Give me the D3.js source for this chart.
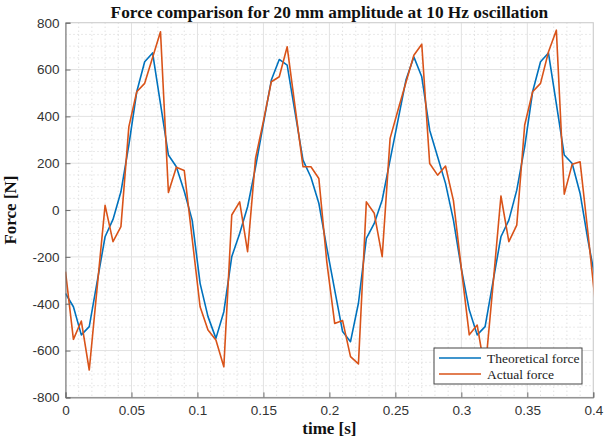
<!DOCTYPE html>
<html>
<head>
<meta charset="utf-8">
<script src="https://cdnjs.cloudflare.com/ajax/libs/d3/7.8.5/d3.min.js"></script>
<style>
  body { margin: 0; background: #fff; }
  svg { display: block; }
</style>
</head>
<body>
<div id="chart"></div>
<script>
// sample times [s]
var time = [0, 0.006, 0.012, 0.018, 0.024, 0.03, 0.036, 0.042, 0.048, 0.054, 0.06, 0.066, 0.072, 0.078, 0.084, 0.09, 0.096,
  0.102, 0.108, 0.114, 0.12, 0.126, 0.132, 0.138, 0.144, 0.15, 0.156, 0.162, 0.168, 0.174, 0.18, 0.186, 0.192, 0.198,
  0.204, 0.21, 0.216, 0.222, 0.228, 0.234, 0.24, 0.246, 0.252, 0.258, 0.264, 0.27, 0.276, 0.282, 0.288, 0.294, 0.3,
  0.306, 0.312, 0.318, 0.324, 0.33, 0.336, 0.342, 0.348, 0.354, 0.36, 0.366, 0.372, 0.378, 0.384, 0.39, 0.396, 0.402]

// theoretical force [N]
var theoretical = [-356, -413, -533, -498, -306, -114, -40, 78, 277, 505, 633, 671, 453, 235, 185, 80, -43,
  -313, -455, -548, -434, -199, -100, 14, 182, 370, 555, 643, 619, 416, 213, 140, 29, -160,
  -341, -519, -562, -398, -121, -57, 43, 214, 384, 555, 654, 569, 341, 228, 114, -43, -250,
  -427, -533, -498, -306, -114, -43, 85, 270, 505, 633, 671, 453, 235, 199, 71, -130, -310]

// actual (measured) force [N]
var actual = [-263, -552, -474, -683, -330, 20, -135, -71, 355, 505, 541, 651, 761, 75, 183, 169, -122,
  -413, -512, -555, -669, -21, 35, -178, 220, 380, 548, 569, 697, 441, 185, 185, 135, -220,
  -484, -472, -626, -657, 35, -14, -199, 306, 427, 545, 661, 708, 199, 149, 188, 40, -250,
  -533, -491, -690, -320, 60, -135, -64, 363, 505, 541, 675, 768, 68, 196, 206, -100, -420]

var seriesNames = ['Theoretical force', 'Actual force']
var xTicks = [0, 0.05, 0.1, 0.15, 0.2, 0.25, 0.3, 0.35, 0.4]
var yTicks = [-800, -600, -400, -200, 0, 200, 400, 600, 800]

var margin = { top: 22.7, left: 65.5, right: 11.7, bottom: 45.6 }
var width = 605 - margin.left - margin.right
var height = 443 - margin.top - margin.bottom

var svg = d3.select('#chart')
  .append('svg')
  .attr('width', 605)
  .attr('height', 443)

var g = svg.append('g')
  .attr('transform', `translate(${margin.left},${margin.top})`)

var xPositionScale = d3.scaleLinear().domain([0, 0.4]).range([0, width])
var yPositionScale = d3.scaleLinear().domain([-800, 800]).range([height, 0])
var colorScale = d3.scaleOrdinal().domain(seriesNames).range(['#0072BD', '#D95319'])

// minor grid (dotted)
g.append('g')
  .selectAll('line')
  .data(d3.range(0.01, 0.4, 0.01).filter(d => Math.abs(d / 0.05 - Math.round(d / 0.05)) > 0.01))
  .enter()
  .append('line')
  .attr('x1', d => xPositionScale(d))
  .attr('x2', d => xPositionScale(d))
  .attr('y1', 0)
  .attr('y2', height)
  .attr('stroke', '#d4d4d4')
  .attr('stroke-dasharray', '1,3')

g.append('g')
  .selectAll('line')
  .data(d3.range(-750, 800, 50).filter(d => d % 200 !== 0))
  .enter()
  .append('line')
  .attr('x1', 0)
  .attr('x2', width)
  .attr('y1', d => yPositionScale(d))
  .attr('y2', d => yPositionScale(d))
  .attr('stroke', '#d4d4d4')
  .attr('stroke-dasharray', '1,3')

// major grid
g.append('g')
  .selectAll('line')
  .data(xTicks)
  .enter()
  .append('line')
  .attr('x1', d => xPositionScale(d))
  .attr('x2', d => xPositionScale(d))
  .attr('y1', 0)
  .attr('y2', height)
  .attr('stroke', '#e2e2e2')

g.append('g')
  .selectAll('line')
  .data(yTicks)
  .enter()
  .append('line')
  .attr('x1', 0)
  .attr('x2', width)
  .attr('y1', d => yPositionScale(d))
  .attr('y2', d => yPositionScale(d))
  .attr('stroke', '#e2e2e2')

// box
g.append('rect')
  .attr('width', width)
  .attr('height', height)
  .attr('fill', 'none')
  .attr('stroke', '#cfcfcf')

g.append('clipPath')
  .attr('id', 'clip')
  .append('rect')
  .attr('width', width)
  .attr('height', height)

var line = d3.line()
  .x(d => xPositionScale(d.t))
  .y(d => yPositionScale(d.v))

var series = [
  { name: seriesNames[0], values: time.map((t, i) => ({ t: t, v: theoretical[i] })) },
  { name: seriesNames[1], values: time.map((t, i) => ({ t: t, v: actual[i] })) }
]

g.append('g')
  .attr('clip-path', 'url(#clip)')
  .selectAll('path')
  .data(series)
  .enter()
  .append('path')
  .attr('d', d => line(d.values))
  .attr('fill', 'none')
  .attr('stroke', d => colorScale(d.name))
  .attr('stroke-width', 1.6)
  .attr('stroke-linejoin', 'round')

// axes
var xAxis = d3.axisBottom(xPositionScale)
  .tickValues(xTicks)
  .tickFormat(d => String(d))
  .tickSize(-5)
  .tickPadding(8)

var yAxis = d3.axisLeft(yPositionScale)
  .tickValues(yTicks)
  .tickFormat(d => String(d))
  .tickSize(-5)
  .tickPadding(6)

g.append('g')
  .attr('class', 'axis')
  .attr('transform', `translate(0,${height})`)
  .call(xAxis)

g.append('g')
  .attr('class', 'axis')
  .call(yAxis)

g.selectAll('.axis path').attr('stroke', '#6e6e6e')
g.selectAll('.axis line').attr('stroke', '#6e6e6e')
g.selectAll('.axis text')
  .attr('fill', '#333')
  .style('font-family', '"Liberation Sans", Arial, sans-serif')
  .style('font-size', '13.5px')

// titles
svg.append('text')
  .attr('x', margin.left + width / 2)
  .attr('y', 18)
  .attr('text-anchor', 'middle')
  .style('font-family', '"Liberation Serif", "Times New Roman", serif')
  .style('font-weight', 'bold')
  .style('font-size', '17.3px')
  .attr('fill', '#111')
  .text('Force comparison for 20 mm amplitude at 10 Hz oscillation')

svg.append('text')
  .attr('x', margin.left + width / 2)
  .attr('y', 434)
  .attr('text-anchor', 'middle')
  .style('font-family', '"Liberation Serif", "Times New Roman", serif')
  .style('font-weight', 'bold')
  .style('font-size', '17px')
  .attr('fill', '#111')
  .text('time [s]')

svg.append('text')
  .attr('transform', `translate(16,${margin.top + height / 2}) rotate(-90)`)
  .attr('text-anchor', 'middle')
  .style('font-family', '"Liberation Serif", "Times New Roman", serif')
  .style('font-weight', 'bold')
  .style('font-size', '17px')
  .attr('fill', '#111')
  .text('Force [N]')

// legend
var legend = svg.append('g').attr('transform', 'translate(434,348)')

legend.append('rect')
  .attr('width', 148)
  .attr('height', 36)
  .attr('fill', '#fff')
  .attr('stroke', '#444')
  .attr('stroke-width', 1)

var items = legend.selectAll('.item')
  .data(seriesNames)
  .enter()
  .append('g')
  .attr('class', 'item')
  .attr('transform', (d, i) => `translate(0,${10 + i * 16})`)

items.append('line')
  .attr('x1', 5)
  .attr('x2', 47)
  .attr('stroke', d => colorScale(d))
  .attr('stroke-width', 1.6)

items.append('text')
  .attr('x', 53)
  .attr('y', 4.5)
  .style('font-family', '"Liberation Serif", "Times New Roman", serif')
  .style('font-size', '13.5px')
  .attr('fill', '#222')
  .text(d => d)
</script>
</body>
</html>
